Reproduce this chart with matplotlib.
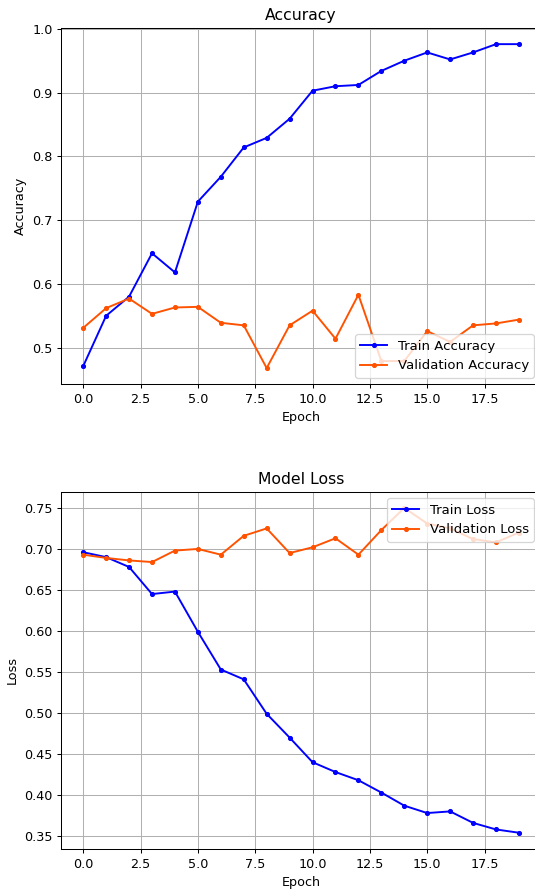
import matplotlib
matplotlib.use("Agg")
import matplotlib.pyplot as plt
import numpy as np

epochs = np.arange(20)

train_acc = [0.471, 0.550, 0.580, 0.648, 0.618, 0.729, 0.768, 0.814, 0.829, 0.859,
             0.903, 0.910, 0.912, 0.934, 0.950, 0.963, 0.952, 0.963, 0.976, 0.976]
val_acc = [0.531, 0.562, 0.577, 0.553, 0.563, 0.564, 0.539, 0.535, 0.468, 0.535,
           0.558, 0.514, 0.583, 0.479, 0.479, 0.526, 0.509, 0.535, 0.538, 0.544]

train_loss = [0.696, 0.690, 0.678, 0.645, 0.648, 0.599, 0.553, 0.541, 0.499, 0.470,
              0.440, 0.428, 0.418, 0.403, 0.387, 0.378, 0.380, 0.366, 0.358, 0.354]
val_loss = [0.693, 0.689, 0.686, 0.684, 0.698, 0.700, 0.693, 0.716, 0.725, 0.695,
            0.702, 0.713, 0.693, 0.723, 0.750, 0.731, 0.725, 0.712, 0.708, 0.720]

blue = '#0000ff'
orange = '#ff5200'

dpi = 92
fig = plt.figure(figsize=(535 / dpi, 893 / dpi), dpi=dpi)

# top: accuracy (axes runs a bit past the right edge, like the original)
ax1 = fig.add_axes([0.1148, 0.5697, 0.8959, 0.399])
ax1.plot(epochs, train_acc, marker='.', color=blue, label='Train Accuracy')
ax1.plot(epochs, val_acc, marker='.', color=orange, label='Validation Accuracy')
ax1.set_title('Accuracy', fontsize=12.2)
ax1.set_ylabel('Accuracy')
ax1.set_xlabel('Epoch')
ax1.grid(True)
ax1.legend(loc='lower right', fontsize=10.4)

# bottom: loss
ax2 = fig.add_axes([0.1148, 0.0493, 0.8959, 0.4001])
ax2.plot(epochs, train_loss, marker='.', color=blue, label='Train Loss')
ax2.plot(epochs, val_loss, marker='.', color=orange, label='Validation Loss')
ax2.set_title('Model Loss', fontsize=12.2)
ax2.set_ylabel('Loss')
ax2.set_xlabel('Epoch')
ax2.grid(True)
ax2.legend(loc='upper right', fontsize=10.4)

fig.savefig('out.png', dpi=dpi)
